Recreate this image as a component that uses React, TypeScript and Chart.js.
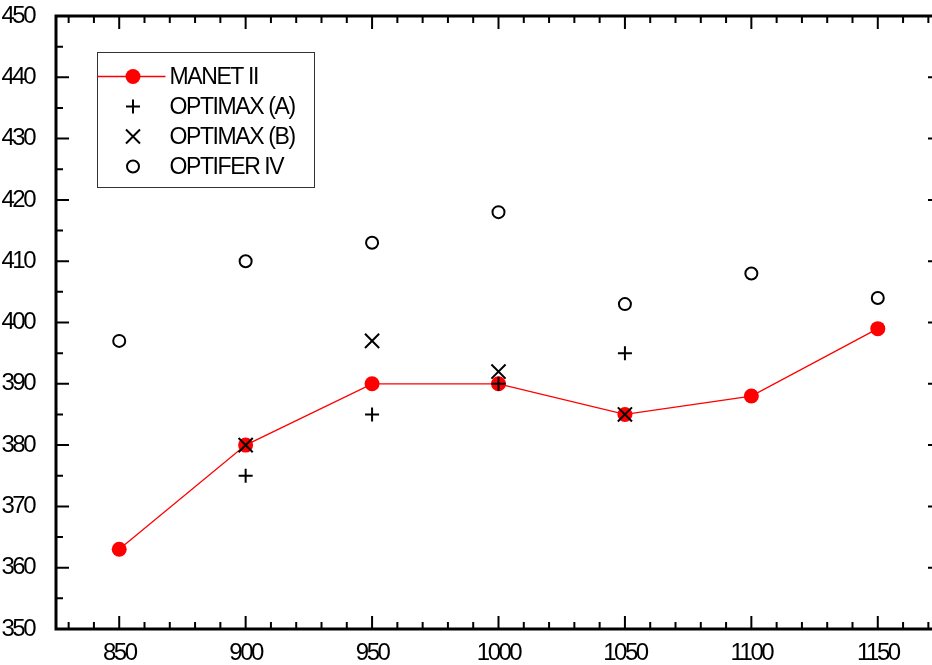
import React, { useEffect, useRef } from 'react';
import { Chart, registerables } from 'chart.js';

Chart.register(...registerables);

const xValues = [850, 900, 950, 1000, 1050, 1100, 1150];
const manetII = [363, 380, 390, 390, 385, 388, 399];
const optimaxA = [null, 375, 385, 390, 395, null, null];
const optimaxB = [null, 380, 397, 392, 385, null, null];
const optiferIV = [397, 410, 413, 418, 403, 408, 404];

const seriesNames = ['MANET II', 'OPTIMAX (A)', 'OPTIMAX (B)', 'OPTIFER IV'];

const xTickValues = [850, 900, 950, 1000, 1050, 1100, 1150];
const yTickValues = [350, 360, 370, 380, 390, 400, 410, 420, 430, 440, 450];

const X_MIN = 825;
const X_MAX = 1175;
const Y_MIN = 350;
const Y_MAX = 450;
const X_MINOR = 10;
const X_MAJOR = 50;
const Y_MINOR = 5;
const Y_MAJOR = 10;

const FONT = '"Liberation Sans", Arial, Helvetica, sans-serif';

const toPoints = (ys: (number | null)[]) =>
  xValues
    .map((x, i) => ({ x, y: ys[i] }))
    .filter((p) => p.y !== null) as { x: number; y: number }[];

const framePlugin = {
  id: 'frameAndLegend',
  beforeDraw(chart: any) {
    chart.ctx.letterSpacing = '-2.5px';
  },
  afterDraw(chart: any) {
    const { ctx, chartArea: a } = chart;
    const xs = chart.scales.x;
    const ys = chart.scales.y;
    ctx.save();
    ctx.letterSpacing = '0px';
    ctx.strokeStyle = '#000';
    ctx.lineCap = 'butt';

    // inward ticks
    ctx.lineWidth = 2;
    ctx.beginPath();
    for (let v = Y_MIN; v <= Y_MAX; v += Y_MINOR) {
      const py = ys.getPixelForValue(v);
      const len = v % Y_MAJOR === 0 ? 13 : 7;
      ctx.moveTo(a.left, py);
      ctx.lineTo(a.left + len, py);
      ctx.moveTo(a.right, py);
      ctx.lineTo(a.right - len, py);
    }
    for (let v = X_MIN + 5; v <= X_MAX; v += X_MINOR) {
      const px = xs.getPixelForValue(v);
      const len = v % X_MAJOR === 0 ? 13 : 7;
      ctx.moveTo(px, a.bottom);
      ctx.lineTo(px, a.bottom - len);
      ctx.moveTo(px, a.top);
      ctx.lineTo(px, a.top + len);
    }
    ctx.stroke();

    // frame
    ctx.lineWidth = 3;
    ctx.strokeRect(a.left, a.top, a.right - a.left, a.bottom - a.top);

    // legend
    const bx = a.left + 41.5;
    const by = a.top + 36.5;
    const bw = 217;
    const bh = 135;
    ctx.fillStyle = '#fff';
    ctx.fillRect(bx, by, bw, bh);
    ctx.lineWidth = 1;
    ctx.strokeStyle = '#333';
    ctx.strokeRect(bx, by, bw, bh);

    const symX = bx + 35.5;
    const textX = bx + 72;
    const rowY = (i: number) => by + 24 + i * 30;
    const dsets = chart.data.datasets;

    // MANET II
    ctx.strokeStyle = dsets[0].borderColor;
    ctx.lineWidth = 1.3;
    ctx.beginPath();
    ctx.moveTo(bx, rowY(0));
    ctx.lineTo(bx + 68, rowY(0));
    ctx.stroke();
    ctx.fillStyle = dsets[0].pointBackgroundColor;
    ctx.beginPath();
    ctx.arc(symX, rowY(0), 7.5, 0, Math.PI * 2);
    ctx.fill();

    ctx.strokeStyle = '#000';
    ctx.lineWidth = 2;
    // +
    ctx.beginPath();
    ctx.moveTo(symX - 7, rowY(1));
    ctx.lineTo(symX + 7, rowY(1));
    ctx.moveTo(symX, rowY(1) - 7);
    ctx.lineTo(symX, rowY(1) + 7);
    ctx.stroke();
    // x
    ctx.beginPath();
    ctx.moveTo(symX - 7, rowY(2) - 7);
    ctx.lineTo(symX + 7, rowY(2) + 7);
    ctx.moveTo(symX + 7, rowY(2) - 7);
    ctx.lineTo(symX - 7, rowY(2) + 7);
    ctx.stroke();
    // o
    ctx.beginPath();
    ctx.arc(symX, rowY(3), 6, 0, Math.PI * 2);
    ctx.stroke();

    ctx.fillStyle = '#000';
    ctx.font = `23px ${FONT}`;
    ctx.letterSpacing = '-1.4px';
    ctx.textAlign = 'left';
    ctx.textBaseline = 'middle';
    seriesNames.forEach((n, i) => ctx.fillText(n, textX, rowY(i) + 1));
    ctx.restore();
  },
};

export default function App() {
  const ref = useRef<HTMLCanvasElement>(null);

  useEffect(() => {
    if (!ref.current) return;
    const tickFont = { family: FONT, size: 24 };
    const chart = new Chart(ref.current, {
      type: 'line',
      data: {
        datasets: [
          {
            label: seriesNames[0],
            data: toPoints(manetII),
            borderColor: '#ff0000',
            borderWidth: 1.3,
            pointBackgroundColor: '#ff0000',
            pointBorderColor: '#ff0000',
            pointBorderWidth: 0,
            pointRadius: 7.5,
            pointStyle: 'circle',
            tension: 0,
            order: 10,
          },
          {
            label: seriesNames[1],
            data: toPoints(optimaxA),
            showLine: false,
            pointStyle: 'cross',
            pointRadius: 7,
            pointBorderColor: '#000',
            pointBorderWidth: 2,
            borderColor: '#000',
            order: 3,
          },
          {
            label: seriesNames[2],
            data: toPoints(optimaxB),
            showLine: false,
            pointStyle: 'crossRot',
            pointRadius: 10,
            pointBorderColor: '#000',
            pointBorderWidth: 2,
            borderColor: '#000',
            order: 2,
          },
          {
            label: seriesNames[3],
            data: toPoints(optiferIV),
            showLine: false,
            pointStyle: 'circle',
            pointRadius: 6,
            pointBackgroundColor: 'rgba(0,0,0,0)',
            pointBorderColor: '#000',
            pointBorderWidth: 2,
            borderColor: '#000',
            order: 1,
          },
        ],
      } as any,
      options: {
        responsive: false,
        animation: false,
        events: [],
        layout: { padding: { top: 16, right: 19, left: 0, bottom: 0 } },
        plugins: { legend: { display: false }, tooltip: { enabled: false } },
        scales: {
          x: {
            type: 'linear',
            min: X_MIN,
            max: X_MAX,
            grid: { display: false },
            border: { display: false },
            afterBuildTicks: (s: any) => {
              s.ticks = xTickValues.map((v) => ({ value: v }));
            },
            afterFit: (s: any) => {
              s.height = 36;
              s.paddingLeft = 0;
              s.paddingRight = 0;
            },
            ticks: {
              font: tickFont,
              color: '#000',
              padding: 2,
              maxRotation: 0,
              autoSkip: false,
              callback: (v: any) => String(v),
            },
          },
          y: {
            type: 'linear',
            min: Y_MIN,
            max: Y_MAX,
            grid: { display: false },
            border: { display: false },
            afterBuildTicks: (s: any) => {
              s.ticks = yTickValues.map((v) => ({ value: v }));
            },
            afterFit: (s: any) => {
              s.width = 56;
              s.paddingTop = 0;
              s.paddingBottom = 0;
            },
            ticks: {
              font: tickFont,
              color: '#000',
              padding: 14,
              autoSkip: false,
              callback: (v: any) => String(v),
            },
          },
        },
      } as any,
      plugins: [framePlugin],
    });
    return () => chart.destroy();
  }, []);

  return (
    <div
      style={{
        position: 'fixed',
        left: 0,
        top: 0,
        width: 932,
        height: 665,
        overflow: 'hidden',
        background: '#fff',
      }}
    >
      <canvas ref={ref} width={960} height={665} style={{ display: 'block' }} />
    </div>
  );
}
